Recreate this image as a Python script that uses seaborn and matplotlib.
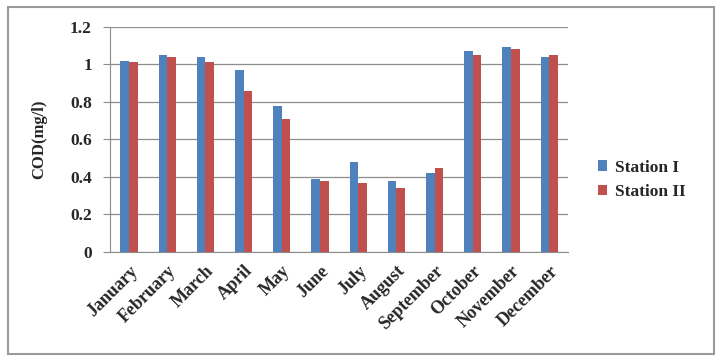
import pandas as pd
import matplotlib.pyplot as plt
import seaborn as sns
from matplotlib.patches import Rectangle

# data
months = ["January", "February", "March", "April", "May", "June", "July",
          "August", "September", "October", "November", "December"]
station_1 = [1.02, 1.05, 1.04, 0.97, 0.78, 0.39, 0.48, 0.38, 0.42, 1.07, 1.09, 1.04]
station_2 = [1.01, 1.04, 1.01, 0.86, 0.71, 0.38, 0.37, 0.34, 0.45, 1.05, 1.08, 1.05]
series = ["Station I", "Station II"]

df = pd.DataFrame({
    "Month": months * 2,
    "COD": station_1 + station_2,
    "Station": [series[0]] * len(months) + [series[1]] * len(months),
})

sns.set_style("white")
plt.rcParams["font.family"] = ["Liberation Serif", "DejaVu Serif"]
plt.rcParams["font.weight"] = "bold"

fig = plt.figure(figsize=(7.23, 3.63), dpi=100)
ax = fig.add_axes([0.152, 0.306, 0.634, 0.62])

sns.barplot(data=df, x="Month", y="COD", hue="Station", order=months,
            palette=["#4F81BD", "#C0504D"], width=0.45, saturation=1,
            edgecolor="none", ax=ax, legend=True)

ax.set_ylim(0, 1.2)
ax.set_yticks([0, 0.2, 0.4, 0.6, 0.8, 1.0, 1.2])
ax.set_yticklabels(["0", "0.2", "0.4", "0.6", "0.8", "1", "1.2"],
                   fontsize=12.5, fontweight="bold")
ax.set_xlim(-0.5, 11.5)
ax.yaxis.grid(True, color="#8c8c8c", lw=0.9)
ax.set_axisbelow(True)
for s in ["top", "right"]:
    ax.spines[s].set_visible(False)
ax.spines["left"].set_color("#8c8c8c")
ax.spines["bottom"].set_color("#8c8c8c")
ax.tick_params(axis="y", left=True, length=5, color="#8c8c8c", pad=8)
ax.tick_params(axis="x", bottom=False, pad=4)
plt.setp(ax.get_xticklabels(), rotation=45, ha="right",
         rotation_mode="anchor", fontsize=13, fontweight="bold")
ax.set_xlabel("")
ax.set_ylabel("COD(mg/l)", fontsize=12, fontweight="bold", labelpad=16)

leg = ax.legend(loc="center left", bbox_to_anchor=(1.03, 0.32), frameon=False,
                handlelength=0.55, handleheight=0.55, handletextpad=0.45,
                labelspacing=0.5, prop={"weight": "bold", "size": 12.5})

# outer frame
fig.patches.append(Rectangle((0.011, 0.025), 0.977, 0.955, transform=fig.transFigure,
                             fill=False, edgecolor="#9a9a9a", lw=1.5))

fig.savefig("out.png", dpi=100)
